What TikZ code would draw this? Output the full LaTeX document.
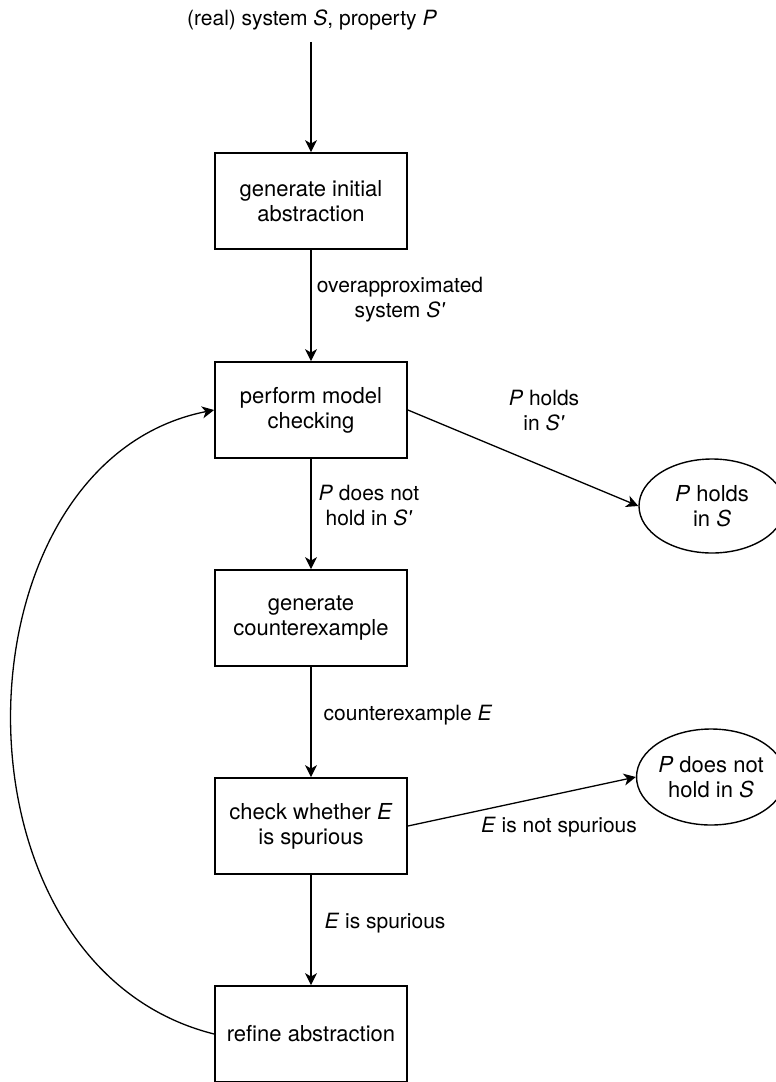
\documentclass[tikz,border=0pt]{standalone}
\usepackage{fontspec}
\setmainfont{TeX Gyre Heros}
\usetikzlibrary{arrows.meta,shapes.geometric}
\newcommand{\pr}{\textquotesingle}
\begin{document}
\begin{tikzpicture}[x=1pt,y=-1pt,
  every node/.style={font=\fontsize{21}{25}\selectfont},
  stepbox/.style={draw, line width=1.8pt, minimum width=192pt, minimum height=96pt, align=center, inner sep=0pt, font=\fontsize{22}{25}\selectfont},
  endbox/.style={draw, ellipse, line width=1.4pt, align=center, inner sep=0pt, font=\fontsize{22}{25}\selectfont},
  lbl/.style={align=center, inner sep=0pt},
  conn/.style={line width=1.3pt, -{Stealth[length=12pt,width=12pt,inset=3.5pt]}}
]
\useasboundingbox (0,0) rectangle (776,1082);
\fill[white] (0,0) rectangle (776,1082);
\clip (0,0) rectangle (776,1082);

\node[anchor=base, inner xsep=0pt, inner ysep=12pt] (in) at (312,25) {(real) system \textit{S}, property \textit{P}};

\node[stepbox] (b1) at (311,201) {generate initial\\abstraction};
\node[stepbox] (b2) at (311,410) {perform model\\checking};
\node[stepbox] (b3) at (311,618) {generate\\counterexample};
\node[stepbox] (b4) at (311,826) {check whether \textit{E}\\is spurious};
\node[stepbox] (b5) at (311,1034) {refine abstraction};

\node[endbox, minimum width=146pt, minimum height=94pt] (h1) at (712,506) {\textit{P} holds\\in \textit{S}};
\node[endbox, minimum width=144pt, minimum height=96pt] (h2) at (711,777) {\textit{P} does not\\hold in \textit{S}};

\draw[conn] (in.south -| b1.north) -- (b1.north);
\draw[conn] (b1) -- (b2);
\draw[conn] (b2) -- (b3);
\draw[conn] (b3) -- (b4);
\draw[conn] (b4) -- (b5);
\draw[conn] (b2.east) -- (h1.west);
\draw[conn] (b4.east) -- (h2.west);
\draw[conn] (b5.west) .. controls (-62,965) and (-50,462) .. (b2.west);

\node[lbl] (l1) at (400,300) {overapproximated\\system \textit{S\pr}};
\node[lbl] (l2) at (544,411) {\textit{P} holds\\in \textit{S\pr}};
\node[lbl] (l3) at (369,506) {\textit{P} does not\\hold in \textit{S\pr}};
\node[lbl] (l4) at (408,715) {counterexample \textit{E}};
\node[lbl] (l5) at (559,827) {\textit{E} is not spurious};
\node[lbl] (l6) at (385,923) {\textit{E} is spurious};
\end{tikzpicture}
\end{document}
